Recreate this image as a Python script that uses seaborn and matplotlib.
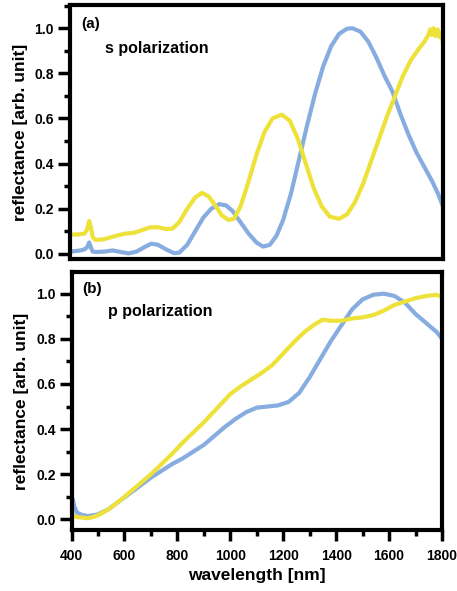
import matplotlib
matplotlib.use("Agg")
import matplotlib.pyplot as plt
import seaborn as sns
from matplotlib.ticker import MultipleLocator

s_blue_wl = [400, 420, 440, 455, 465, 472, 478, 485, 500, 530, 560, 590, 620, 650, 680, 705, 730, 760, 790,
             810, 840, 870, 900, 930, 960, 985, 1010, 1040, 1070, 1100, 1125, 1150, 1175, 1200, 1230, 1260,
             1290, 1320, 1350, 1380, 1410, 1440, 1460, 1490, 1520, 1550, 1580, 1610, 1640, 1670, 1700, 1730,
             1760, 1780, 1800]
s_blue = [0.01, 0.012, 0.015, 0.02, 0.03, 0.05, 0.03, 0.01, 0.008, 0.01, 0.015, 0.008, 0.002, 0.01, 0.03,
          0.045, 0.04, 0.02, 0.003, 0.005, 0.04, 0.10, 0.16, 0.20, 0.22, 0.215, 0.19, 0.14, 0.09, 0.05, 0.032,
          0.04, 0.08, 0.15, 0.27, 0.42, 0.57, 0.71, 0.83, 0.92, 0.975, 0.998, 1.0, 0.985, 0.94, 0.87, 0.79,
          0.72, 0.62, 0.53, 0.45, 0.385, 0.32, 0.27, 0.21]

s_yellow_wl = [400, 430, 455, 465, 472, 478, 485, 495, 520, 550, 580, 610, 640, 670, 700, 730, 760, 785, 810,
               840, 870, 895, 920, 945, 970, 995, 1015, 1040, 1070, 1100, 1130, 1160, 1195, 1225, 1255, 1285,
               1315, 1345, 1375, 1410, 1440, 1470, 1500, 1530, 1560, 1590, 1620, 1650, 1680, 1710, 1730, 1745,
               1752, 1758, 1765, 1772, 1780, 1788, 1795, 1800]
s_yellow = [0.085, 0.086, 0.09, 0.11, 0.145, 0.12, 0.075, 0.062, 0.063, 0.072, 0.082, 0.09, 0.093, 0.105,
            0.117, 0.118, 0.11, 0.112, 0.14, 0.20, 0.25, 0.27, 0.255, 0.215, 0.17, 0.15, 0.155, 0.21, 0.32,
            0.44, 0.54, 0.60, 0.617, 0.59, 0.51, 0.40, 0.29, 0.21, 0.165, 0.155, 0.175, 0.23, 0.31, 0.41,
            0.51, 0.61, 0.70, 0.79, 0.86, 0.91, 0.94, 0.97, 0.995, 0.97, 1.0, 0.965, 0.995, 0.96, 0.98, 0.93]

p_blue_wl = [400, 405, 410, 420, 440, 460, 480, 500, 540, 580, 620, 660, 700, 740, 780, 820, 860, 900, 940,
             980, 1020, 1060, 1100, 1140, 1180, 1220, 1260, 1300, 1340, 1380, 1420, 1460, 1500, 1540, 1580,
             1620, 1660, 1700, 1740, 1780, 1800]
p_blue = [0.05, 0.09, 0.06, 0.03, 0.02, 0.015, 0.018, 0.022, 0.045, 0.08, 0.115, 0.15, 0.185, 0.215, 0.245,
          0.27, 0.30, 0.33, 0.37, 0.41, 0.445, 0.475, 0.495, 0.50, 0.505, 0.52, 0.56, 0.63, 0.71, 0.79, 0.86,
          0.93, 0.975, 0.995, 1.0, 0.99, 0.96, 0.91, 0.87, 0.83, 0.80]

p_yellow_wl = [400, 420, 440, 460, 480, 500, 540, 580, 620, 660, 700, 740, 780, 820, 860, 900, 940, 980, 1000,
               1040, 1080, 1120, 1160, 1200, 1240, 1280, 1320, 1350, 1380, 1420, 1460, 1500, 1540, 1580, 1620,
               1660, 1700, 1740, 1780, 1800]
p_yellow = [0.02, 0.01, 0.008, 0.005, 0.01, 0.018, 0.045, 0.08, 0.12, 0.16, 0.2, 0.245, 0.29, 0.34, 0.385,
            0.43, 0.48, 0.53, 0.555, 0.59, 0.62, 0.65, 0.685, 0.735, 0.785, 0.83, 0.865, 0.885, 0.88, 0.88,
            0.89, 0.895, 0.905, 0.925, 0.95, 0.965, 0.98, 0.99, 0.995, 0.985]

panel_tags = ["(a)", "(b)"]
panel_names = ["s polarization", "p polarization"]
x_ticks = [400, 600, 800, 1000, 1200, 1400, 1600, 1800]
y_ticks = [0.0, 0.2, 0.4, 0.6, 0.8, 1.0]

BLUE = "#87acdf"
YELLOW = "#eee23a"

sns.set_theme(style="ticks")
plt.rcParams["font.family"] = ["Liberation Sans", "DejaVu Sans"]
plt.rcParams["font.weight"] = "bold"
plt.rcParams["text.color"] = "black"
plt.rcParams["axes.labelcolor"] = "black"
plt.rcParams["xtick.color"] = "black"
plt.rcParams["ytick.color"] = "black"
plt.rcParams["axes.edgecolor"] = "black"

W, H = 457, 591
fig = plt.figure(figsize=(W / 100, H / 100), dpi=100)
ax_top = fig.add_axes([70 / W, 1 - 259 / H, 373 / W, 254 / H])
ax_bot = fig.add_axes([71.5 / W, 1 - 530 / H, 370.5 / W, 258 / H])

panels = [
    (ax_top, s_blue_wl, s_blue, s_yellow_wl, s_yellow, (-0.023, 1.103), (0.925, 0.83), 0.094),
    (ax_bot, p_blue_wl, p_blue, p_yellow_wl, p_yellow, (-0.047, 1.096), (0.933, 0.845), 0.098),
]

for i, (ax, bw, bv, yw, yv, ylim, ty, tx) in enumerate(panels):
    sns.lineplot(x=bw, y=bv, ax=ax, color=BLUE, lw=3)
    sns.lineplot(x=yw, y=yv, ax=ax, color=YELLOW, lw=3)
    ax.set_xlim(400, 1800)
    ax.set_ylim(*ylim)
    ax.set_yticks(y_ticks)
    ax.yaxis.set_minor_locator(MultipleLocator(0.1))
    ax.set_yticklabels([f"{t:.1f}" for t in y_ticks], fontsize=10, fontweight="bold")
    ax.set_ylabel("reflectance [arb. unit]", fontsize=12.5, fontweight="bold", labelpad=5)
    for sp in ax.spines.values():
        sp.set_linewidth(3)
        sp.set_color("black")
        sp.set_visible(True)
    ax.tick_params(axis="y", which="major", length=8.5, width=2.5, direction="out", pad=3)
    ax.tick_params(axis="y", which="minor", length=4.5, width=2.5, direction="out")
    ax.text(0.03, ty[0], panel_tags[i], transform=ax.transAxes, fontsize=11, fontweight="bold", va="center")
    ax.text(tx, ty[1], panel_names[i], transform=ax.transAxes, fontsize=11.5, fontweight="bold", va="center")

ax_top.set_xticks([])
ax_top.set_xlabel("")

ax_bot.set_xticks(x_ticks)
ax_bot.set_xticklabels([str(t) for t in x_ticks], fontsize=10, fontweight="bold")
ax_bot.xaxis.set_minor_locator(MultipleLocator(100))
ax_bot.tick_params(axis="x", which="major", length=8, width=2.5, direction="out", pad=6)
ax_bot.tick_params(axis="x", which="minor", length=4.5, width=2.5, direction="out")
ax_bot.set_xlabel("wavelength [nm]", fontsize=12.5, fontweight="bold", labelpad=3)

fig.savefig("out.png", dpi=100)
